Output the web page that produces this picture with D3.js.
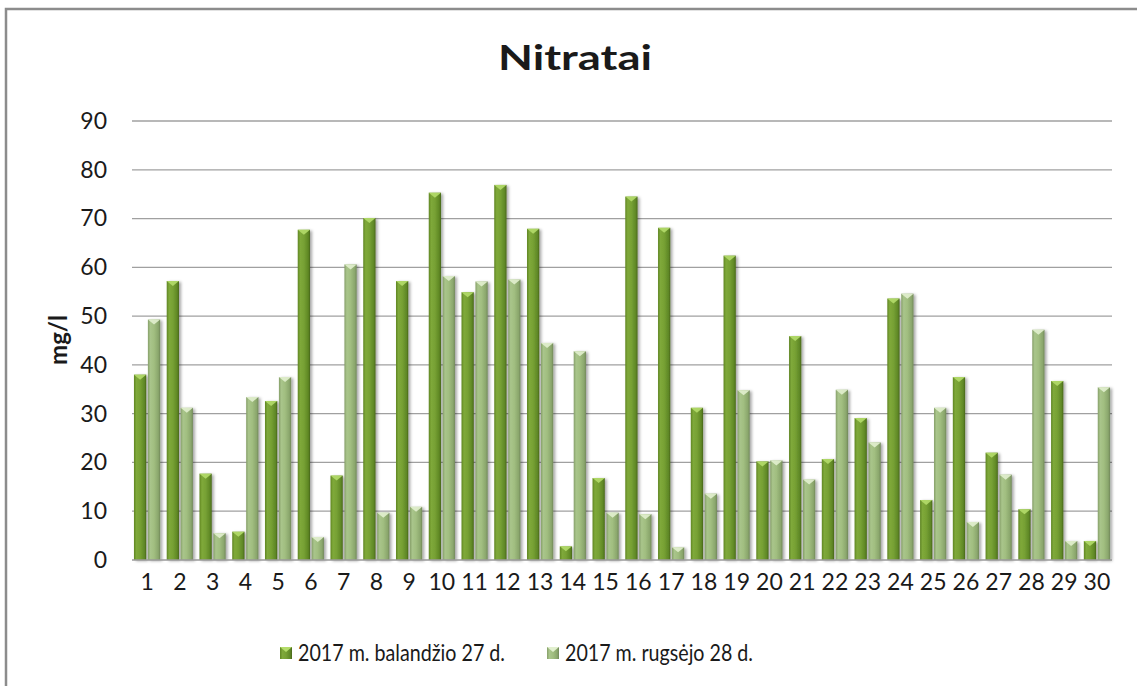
<!DOCTYPE html>
<html>
<head>
<meta charset="utf-8">
<script src="https://cdn.jsdelivr.net/npm/d3@7"></script>
<style>
  body { margin: 0; background: #fff; }
  text { font-family: Lato, "Open Sans", sans-serif; fill: #1a1a1a; }
</style>
</head>
<body>
<svg id="chart" width="1137" height="686"></svg>
<script>
var categories = d3.range(1, 31).map(String);
var seriesNames = ['2017 m. balandžio 27 d.', '2017 m. rugsėjo 28 d.'];
var april = [38, 57.2, 17.7, 5.8, 32.6, 67.7, 17.3, 70.1, 57.2, 75.3,
  54.9, 76.9, 67.9, 2.8, 16.8, 74.5, 68.1, 31.2, 62.4, 20.2,
  45.9, 20.7, 29.1, 53.6, 12.3, 37.5, 22.0, 10.4, 36.7, 3.9];
var september = [49.3, 31.2, 5.5, 33.4, 37.5, 4.7, 60.6, 9.7, 10.9, 58.2,
  57.1, 57.5, 44.5, 42.8, 9.7, 9.4, 2.6, 13.6, 34.8, 20.4,
  16.5, 34.9, 24.1, 54.6, 31.2, 7.8, 17.5, 47.2, 3.9, 35.4];
var yTicks = d3.range(0, 100, 10);

var svg = d3.select('#chart');

// outer frame
svg.append('path')
  .attr('d', 'M6,686 V9 H1137')
  .attr('fill', 'none')
  .attr('stroke', '#8c8c8c')
  .attr('stroke-width', 2.5);

var defs = svg.append('defs');

function gradient(id, stops) {
  var g = defs.append('linearGradient').attr('id', id)
    .attr('x1', 0).attr('x2', 1).attr('y1', 0).attr('y2', 0);
  stops.forEach(function(s) {
    g.append('stop').attr('offset', s[0]).attr('stop-color', s[1]);
  });
}
gradient('gA', [[0, '#5f8522'], [0.2, '#7fa93a'], [0.5, '#77a134'], [0.85, '#5f8826'], [1, '#48661a']]);
gradient('gB', [[0, '#869f69'], [0.2, '#a9c58b'], [0.5, '#a1be80'], [0.85, '#8aa66c'], [1, '#71875a']]);

var shadow = defs.append('filter').attr('id', 'shadow')
  .attr('x', '-30%').attr('y', '-10%').attr('width', '170%').attr('height', '130%');
shadow.append('feDropShadow')
  .attr('dx', 2).attr('dy', 1).attr('stdDeviation', 1.5)
  .attr('flood-color', '#000').attr('flood-opacity', 0.35);

var x0 = d3.scaleBand().domain(categories).range([132, 1112])
  .paddingInner(0.2).paddingOuter(0.06);
var x1 = d3.scaleBand().domain([0, 1]).range([0, x0.bandwidth()]).paddingInner(0.12);
var y = d3.scaleLinear().domain([0, 90]).range([560, 121]);

// gridlines
svg.append('g')
  .selectAll('line')
  .data(yTicks.slice(1))
  .join('line')
  .attr('x1', 132).attr('x2', 1112)
  .attr('y1', function(d) { return y(d); })
  .attr('y2', function(d) { return y(d); })
  .attr('stroke', '#a0a0a0')
  .attr('stroke-width', 1.3);

// y axis labels
var yAxis = svg.append('g')
  .attr('transform', 'translate(132,0)')
  .call(d3.axisLeft(y).tickValues(yTicks).tickSize(0).tickPadding(25));
yAxis.select('.domain').remove();
yAxis.selectAll('text')
  .style('font-size', '23px')
  .style('font-family', 'Lato, sans-serif')
  .attr('fill', '#1a1a1a');

// bars
var rows = categories.map(function(c, i) {
  return { cat: c, vals: [april[i], september[i]] };
});

var groups = svg.append('g')
  .selectAll('g')
  .data(rows)
  .join('g')
  .attr('transform', function(d) { return 'translate(' + x0(d.cat) + ',0)'; });

var bars = groups.selectAll('g')
  .data(function(d) { return d.vals.map(function(v, k) { return { k: k, v: v }; }); })
  .join('g');

bars.append('rect')
  .attr('x', function(d) { return x1(d.k); })
  .attr('y', function(d) { return y(d.v); })
  .attr('width', x1.bandwidth())
  .attr('height', function(d) { return y(0) - y(d.v); })
  .attr('fill', function(d) { return d.k === 0 ? 'url(#gA)' : 'url(#gB)'; })
  .attr('filter', 'url(#shadow)');

// bevel on top of each bar
bars.append('path')
  .attr('d', function(d) {
    var xl = x1(d.k), w = x1.bandwidth(), t = y(d.v);
    var h = Math.min(5, y(0) - t);
    return 'M' + xl + ',' + t + 'H' + (xl + w) + 'L' + (xl + w / 2) + ',' + (t + h) + 'Z';
  })
  .attr('fill', function(d) { return d.k === 0 ? '#b4dc6a' : '#e2f0cf'; })
  .attr('opacity', 0.9);

// baseline
svg.append('line')
  .attr('x1', 132).attr('x2', 1112)
  .attr('y1', y(0)).attr('y2', y(0))
  .attr('stroke', '#9a9a9a')
  .attr('stroke-width', 1.5);

// x axis labels
var xAxis = svg.append('g')
  .attr('transform', 'translate(0,' + y(0) + ')')
  .call(d3.axisBottom(x0).tickSize(0).tickPadding(14));
xAxis.select('.domain').remove();
xAxis.selectAll('text')
  .style('font-size', '23px')
  .style('font-family', 'Lato, sans-serif')
  .attr('fill', '#1a1a1a');

// title
svg.append('text')
  .attr('x', 575).attr('y', 70)
  .attr('text-anchor', 'middle')
  .attr('textLength', 154)
  .attr('lengthAdjust', 'spacingAndGlyphs')
  .style('font-size', '35px')
  .style('font-weight', 'bold')
  .text('Nitratai');

// y axis title
svg.append('text')
  .attr('transform', 'translate(67,340) rotate(-90)')
  .attr('text-anchor', 'middle')
  .style('font-size', '24px')
  .style('font-weight', 'bold')
  .text('mg/l');

// legend
var legendX = [280, 547];
var legendLen = [207, 188];
var legend = svg.append('g')
  .selectAll('g')
  .data(seriesNames)
  .join('g')
  .attr('transform', function(d, i) { return 'translate(' + legendX[i] + ',647)'; });
legend.append('rect')
  .attr('width', 12).attr('height', 12)
  .attr('fill', function(d, i) { return i === 0 ? 'url(#gA)' : 'url(#gB)'; });
legend.append('path')
  .attr('d', 'M0,0H12L6,5Z')
  .attr('fill', function(d, i) { return i === 0 ? '#b4dc6a' : '#e2f0cf'; });
legend.append('text')
  .attr('x', 18).attr('y', 14)
  .attr('textLength', function(d, i) { return legendLen[i]; })
  .attr('lengthAdjust', 'spacingAndGlyphs')
  .style('font-size', '23px')
  .text(function(d) { return d; });
</script>
</body>
</html>
